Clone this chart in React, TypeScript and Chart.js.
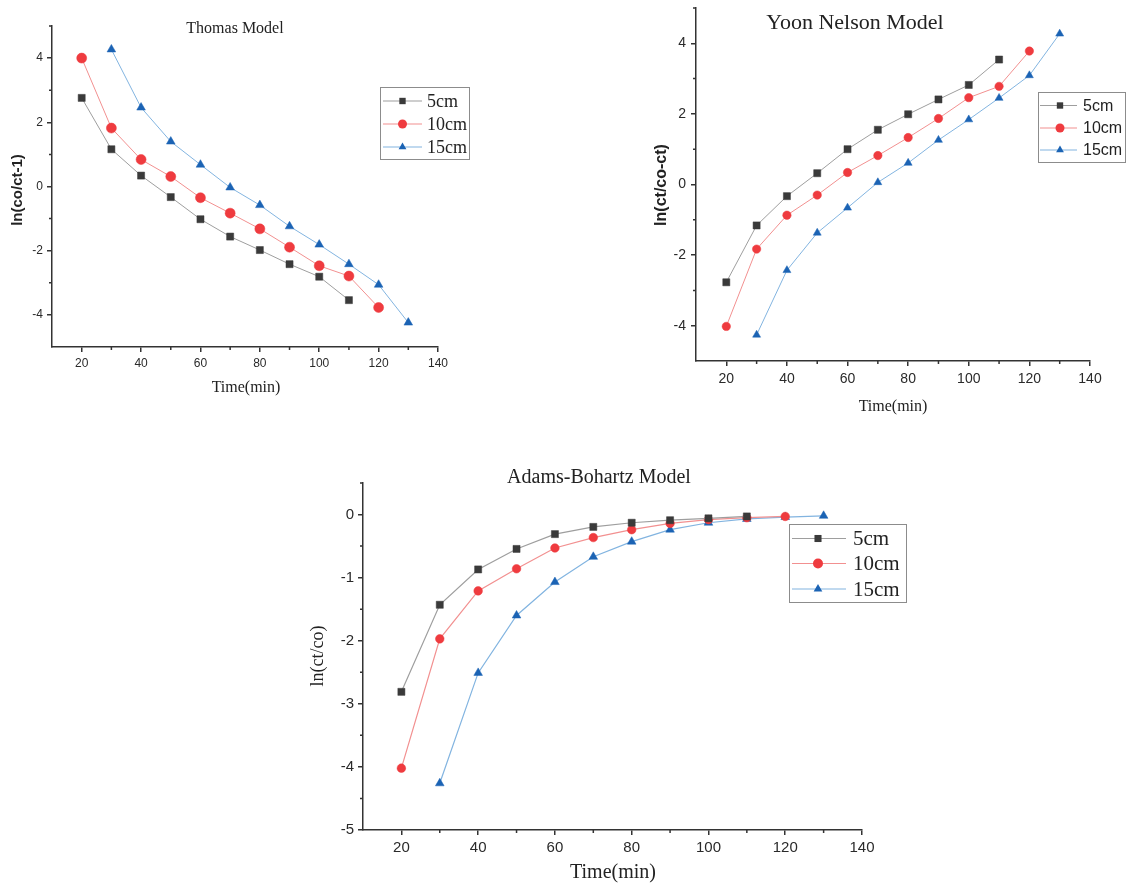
import React, { useEffect, useRef } from 'react';
import { Chart, registerables } from 'chart.js';

Chart.register(...registerables);

// Sampling times (min) for each bed depth
const TIME_5CM = [20, 30, 40, 50, 60, 70, 80, 90, 100, 110];
const TIME_10CM = [20, 30, 40, 50, 60, 70, 80, 90, 100, 110, 120];
const TIME_15CM = [30, 40, 50, 60, 70, 80, 90, 100, 110, 120, 130];

// Thomas model: ln(co/ct - 1)
const THOMAS_5CM = [2.76, 1.16, 0.34, -0.33, -1.02, -1.56, -1.98, -2.42, -2.81, -3.54];
const THOMAS_10CM = [4.0, 1.82, 0.84, 0.31, -0.35, -0.83, -1.32, -1.89, -2.47, -2.79, -3.77];
const THOMAS_15CM = [4.27, 2.46, 1.4, 0.68, -0.03, -0.58, -1.24, -1.81, -2.42, -3.06, -4.24];

// Yoon-Nelson model: ln(ct/(co - ct))
const YOON_5CM = [-2.77, -1.16, -0.33, 0.32, 1.0, 1.55, 1.99, 2.41, 2.82, 3.54];
const YOON_10CM = [-4.02, -1.83, -0.87, -0.3, 0.34, 0.82, 1.33, 1.87, 2.46, 2.78, 3.78];
const YOON_15CM = [-4.26, -2.43, -1.37, -0.66, 0.06, 0.61, 1.26, 1.84, 2.45, 3.09, 4.27];

// Adams-Bohart model: ln(ct/co)
const ADAMS_5CM = [-2.81, -1.43, -0.87, -0.545, -0.31, -0.196, -0.13, -0.09, -0.06, -0.03];
const ADAMS_10CM = [-4.02, -1.97, -1.21, -0.86, -0.53, -0.365, -0.24, -0.14, -0.08, -0.05, -0.03];
const ADAMS_15CM = [-4.26, -2.51, -1.6, -1.07, -0.67, -0.43, -0.24, -0.13, -0.07, -0.04, -0.02];

const SERIES_LABELS = ['5cm', '10cm', '15cm'];

// Axis ticks
const TIME_TICKS = [20, 40, 60, 80, 100, 120, 140];
const TIME_MINOR_TICKS = [30, 50, 70, 90, 110, 130];
const LN_TICKS = [-4, -2, 0, 2, 4];
const LN_MINOR_TICKS = [-3, -1, 1, 3, 5];
const ADAMS_TICKS = [-5, -4, -3, -2, -1, 0];
const ADAMS_MINOR_TICKS = [-4.5, -3.5, -2.5, -1.5, -0.5, 0.5];

const SERIF = '"Liberation Serif", "Times New Roman", serif';
const SANS = '"Liberation Sans", Arial, sans-serif';
const AXIS_COLOR = '#333333';
const TEXT_COLOR = '#222222';

const SERIES_STYLE = [
  { point: 'rect', fill: '#3a3a3a', line: '#9e9e9e' },
  { point: 'circle', fill: '#ef3b3f', line: '#f29090' },
  { point: 'triangle', fill: '#1b63b4', line: '#82b4e0' },
];

type Box = { left: number; top: number; width: number; height: number };
type Area = { left: number; top: number; right: number; bottom: number };

interface PanelSpec {
  canvas: Box;
  area: Area;
  xRange: [number, number];
  yRange: [number, number];
  xTicks: number[];
  xMinor: number[];
  yTicks: number[];
  yMinor: number[];
  times: number[][];
  values: number[][];
  radii: number[];
  lineWidth: number;
  tickFont: number;
  tickPad: number;
  title: { text: string; x: number; y: number; font: string };
  xTitle: { text: string; x: number; y: number; font: string };
  yTitle: { text: string; x: number; y: number; font: string };
  legend: {
    box: Box;
    rows: number[];
    lineX: [number, number];
    symX: number;
    textX: number;
    font: string;
    symR: number;
  };
}

const PANELS: PanelSpec[] = [
  {
    canvas: { left: 0, top: 0, width: 480, height: 400 },
    area: { left: 52, top: 26, right: 438, bottom: 347 },
    xRange: [10, 140],
    yRange: [-5, 5],
    xTicks: TIME_TICKS,
    xMinor: TIME_MINOR_TICKS,
    yTicks: LN_TICKS,
    yMinor: LN_MINOR_TICKS,
    times: [TIME_5CM, TIME_10CM, TIME_15CM],
    values: [THOMAS_5CM, THOMAS_10CM, THOMAS_15CM],
    radii: [5, 5, 5],
    lineWidth: 1,
    tickFont: 12,
    tickPad: 4,
    title: { text: 'Thomas Model', x: 235, y: 29, font: `16px ${SERIF}` },
    xTitle: { text: 'Time(min)', x: 246, y: 388, font: `16px ${SERIF}` },
    yTitle: { text: 'ln(co/ct-1)', x: 18, y: 190, font: `bold 15px ${SANS}` },
    legend: {
      box: { left: 380, top: 87, width: 89, height: 72 },
      rows: [101, 124, 147],
      lineX: [383, 422],
      symX: 402.5,
      textX: 427,
      font: `18px ${SERIF}`,
      symR: 4.5,
    },
  },
  {
    canvas: { left: 640, top: 0, width: 489, height: 420 },
    area: { left: 696, top: 8, right: 1090, bottom: 361 },
    xRange: [10, 140],
    yRange: [-5, 5],
    xTicks: TIME_TICKS,
    xMinor: TIME_MINOR_TICKS,
    yTicks: LN_TICKS,
    yMinor: LN_MINOR_TICKS,
    times: [TIME_5CM, TIME_10CM, TIME_15CM],
    values: [YOON_5CM, YOON_10CM, YOON_15CM],
    radii: [5, 4.2, 4.6],
    lineWidth: 1,
    tickFont: 14,
    tickPad: 5,
    title: { text: 'Yoon Nelson Model', x: 855, y: 23, font: `22px ${SERIF}` },
    xTitle: { text: 'Time(min)', x: 893, y: 407, font: `16px ${SERIF}` },
    yTitle: { text: 'ln(ct/co-ct)', x: 662, y: 185, font: `bold 16px ${SANS}` },
    legend: {
      box: { left: 1038, top: 92, width: 87, height: 70 },
      rows: [105.5, 128, 150],
      lineX: [1040, 1077],
      symX: 1060,
      textX: 1083,
      font: `16px ${SANS}`,
      symR: 4.5,
    },
  },
  {
    canvas: { left: 290, top: 460, width: 639, height: 426 },
    area: { left: 363, top: 483, right: 862, bottom: 830 },
    xRange: [10, 140],
    yRange: [-5, 0.5],
    xTicks: TIME_TICKS,
    xMinor: TIME_MINOR_TICKS,
    yTicks: ADAMS_TICKS,
    yMinor: ADAMS_MINOR_TICKS,
    times: [TIME_5CM, TIME_10CM, TIME_15CM],
    values: [ADAMS_5CM, ADAMS_10CM, ADAMS_15CM],
    radii: [5, 4.3, 5],
    lineWidth: 1.2,
    tickFont: 15,
    tickPad: 4,
    title: { text: 'Adams-Bohartz Model', x: 599, y: 478, font: `20px ${SERIF}` },
    xTitle: { text: 'Time(min)', x: 613, y: 873, font: `20px ${SERIF}` },
    yTitle: { text: 'ln(ct/co)', x: 318, y: 656, font: `18px ${SERIF}` },
    legend: {
      box: { left: 789, top: 524, width: 117, height: 78 },
      rows: [538.5, 563.5, 589],
      lineX: [792, 846],
      symX: 818,
      textX: 853,
      font: `21px ${SERIF}`,
      symR: 5,
    },
  },
];

function drawSymbol(ctx: CanvasRenderingContext2D, kind: string, x: number, y: number, r: number) {
  ctx.beginPath();
  if (kind === 'rect') {
    const s = r * Math.SQRT2;
    ctx.rect(x - s / 2, y - s / 2, s, s);
  } else if (kind === 'circle') {
    ctx.arc(x, y, r, 0, Math.PI * 2);
  } else {
    const a = Math.PI / 6;
    ctx.moveTo(x, y - r);
    ctx.lineTo(x + r * Math.cos(a), y + r * Math.sin(a));
    ctx.lineTo(x - r * Math.cos(a), y + r * Math.sin(a));
    ctx.closePath();
  }
  ctx.fill();
}

function makeDecorPlugin(spec: PanelSpec) {
  const ox = spec.canvas.left;
  const oy = spec.canvas.top;
  return {
    id: 'panelDecor',
    afterDraw(chart: any) {
      const ctx: CanvasRenderingContext2D = chart.ctx;
      const xs = chart.scales.x;
      const ys = chart.scales.y;
      ctx.save();

      // minor ticks
      ctx.strokeStyle = AXIS_COLOR;
      ctx.lineWidth = 1.5;
      ctx.beginPath();
      spec.xMinor.forEach((v) => {
        const px = xs.getPixelForValue(v);
        ctx.moveTo(px, xs.top);
        ctx.lineTo(px, xs.top + 3);
      });
      spec.yMinor.forEach((v) => {
        const py = ys.getPixelForValue(v);
        ctx.moveTo(ys.right - 3, py);
        ctx.lineTo(ys.right, py);
      });
      ctx.stroke();

      // titles
      ctx.fillStyle = TEXT_COLOR;
      ctx.textAlign = 'center';
      ctx.textBaseline = 'middle';
      ctx.font = spec.title.font;
      ctx.fillText(spec.title.text, spec.title.x - ox, spec.title.y - oy);
      ctx.font = spec.xTitle.font;
      ctx.fillText(spec.xTitle.text, spec.xTitle.x - ox, spec.xTitle.y - oy);
      ctx.save();
      ctx.translate(spec.yTitle.x - ox, spec.yTitle.y - oy);
      ctx.rotate(-Math.PI / 2);
      ctx.font = spec.yTitle.font;
      ctx.fillText(spec.yTitle.text, 0, 0);
      ctx.restore();

      // legend
      const lg = spec.legend;
      ctx.fillStyle = '#ffffff';
      ctx.fillRect(lg.box.left - ox, lg.box.top - oy, lg.box.width, lg.box.height);
      ctx.strokeStyle = '#8c8c8c';
      ctx.lineWidth = 1;
      ctx.strokeRect(lg.box.left - ox + 0.5, lg.box.top - oy + 0.5, lg.box.width, lg.box.height);
      SERIES_LABELS.forEach((label, i) => {
        const st = SERIES_STYLE[i];
        const y = lg.rows[i] - oy;
        ctx.strokeStyle = st.line;
        ctx.lineWidth = 1.2;
        ctx.beginPath();
        ctx.moveTo(lg.lineX[0] - ox, y);
        ctx.lineTo(lg.lineX[1] - ox, y);
        ctx.stroke();
        ctx.fillStyle = st.fill;
        drawSymbol(ctx, st.point, lg.symX - ox, y, lg.symR);
        ctx.fillStyle = TEXT_COLOR;
        ctx.font = lg.font;
        ctx.textAlign = 'left';
        ctx.textBaseline = 'middle';
        ctx.fillText(label, lg.textX - ox, y + 1);
      });

      ctx.restore();
    },
  };
}

function buildConfig(spec: PanelSpec): any {
  const c = spec.canvas;
  const a = spec.area;
  const yWidth = a.left - c.left;
  const xHeight = c.top + c.height - a.bottom;
  const tickFont = { family: SANS, size: spec.tickFont };

  const datasets = SERIES_LABELS.map((label, i) => ({
    label,
    data: spec.times[i].map((t, j) => ({ x: t, y: spec.values[i][j] })),
    borderColor: SERIES_STYLE[i].line,
    borderWidth: spec.lineWidth,
    pointStyle: SERIES_STYLE[i].point,
    pointRadius: spec.radii[i],
    pointBackgroundColor: SERIES_STYLE[i].fill,
    pointBorderColor: SERIES_STYLE[i].fill,
    pointBorderWidth: 0.5,
    fill: false,
    tension: 0,
  }));

  const zeroPad = (s: any) => {
    s.paddingLeft = 0;
    s.paddingRight = 0;
    s.paddingTop = 0;
    s.paddingBottom = 0;
  };

  return {
    type: 'line',
    data: { datasets },
    options: {
      responsive: false,
      animation: false,
      devicePixelRatio: 1,
      layout: {
        padding: {
          left: 0,
          top: a.top - c.top,
          right: c.left + c.width - a.right,
          bottom: 0,
        },
      },
      plugins: {
        legend: { display: false },
        tooltip: { enabled: false },
        title: { display: false },
      },
      scales: {
        x: {
          type: 'linear',
          min: spec.xRange[0],
          max: spec.xRange[1],
          afterBuildTicks: (s: any) => {
            s.ticks = spec.xTicks.map((v) => ({ value: v }));
          },
          afterFit: (s: any) => {
            s.height = xHeight;
            zeroPad(s);
          },
          ticks: {
            font: tickFont,
            color: '#2a2a2a',
            padding: spec.tickPad,
            maxRotation: 0,
            autoSkip: false,
            callback: (v: any) => String(v),
          },
          grid: {
            drawOnChartArea: false,
            drawTicks: true,
            tickLength: 5,
            color: AXIS_COLOR,
            lineWidth: 1.5,
          },
          border: { display: true, color: AXIS_COLOR, width: 1.5 },
        },
        y: {
          type: 'linear',
          min: spec.yRange[0],
          max: spec.yRange[1],
          afterBuildTicks: (s: any) => {
            s.ticks = spec.yTicks.map((v) => ({ value: v }));
          },
          afterFit: (s: any) => {
            s.width = yWidth;
            zeroPad(s);
          },
          ticks: {
            font: tickFont,
            color: '#2a2a2a',
            padding: spec.tickPad,
            autoSkip: false,
            callback: (v: any) => String(v),
          },
          grid: {
            drawOnChartArea: false,
            drawTicks: true,
            tickLength: 5,
            color: AXIS_COLOR,
            lineWidth: 1.5,
          },
          border: { display: true, color: AXIS_COLOR, width: 1.5 },
        },
      },
    },
    plugins: [makeDecorPlugin(spec)],
  };
}

function Panel({ spec }: { spec: PanelSpec }) {
  const ref = useRef<HTMLCanvasElement | null>(null);
  useEffect(() => {
    if (!ref.current) return;
    const chart = new Chart(ref.current, buildConfig(spec));
    return () => chart.destroy();
  }, [spec]);
  const c = spec.canvas;
  return (
    <canvas
      ref={ref}
      width={c.width}
      height={c.height}
      style={{ position: 'absolute', left: c.left, top: c.top, width: c.width, height: c.height }}
    />
  );
}

export default function App() {
  return (
    <div style={{ position: 'absolute', left: 0, top: 0, width: 1129, height: 886, background: '#ffffff' }}>
      {PANELS.map((p, i) => (
        <Panel key={i} spec={p} />
      ))}
    </div>
  );
}
